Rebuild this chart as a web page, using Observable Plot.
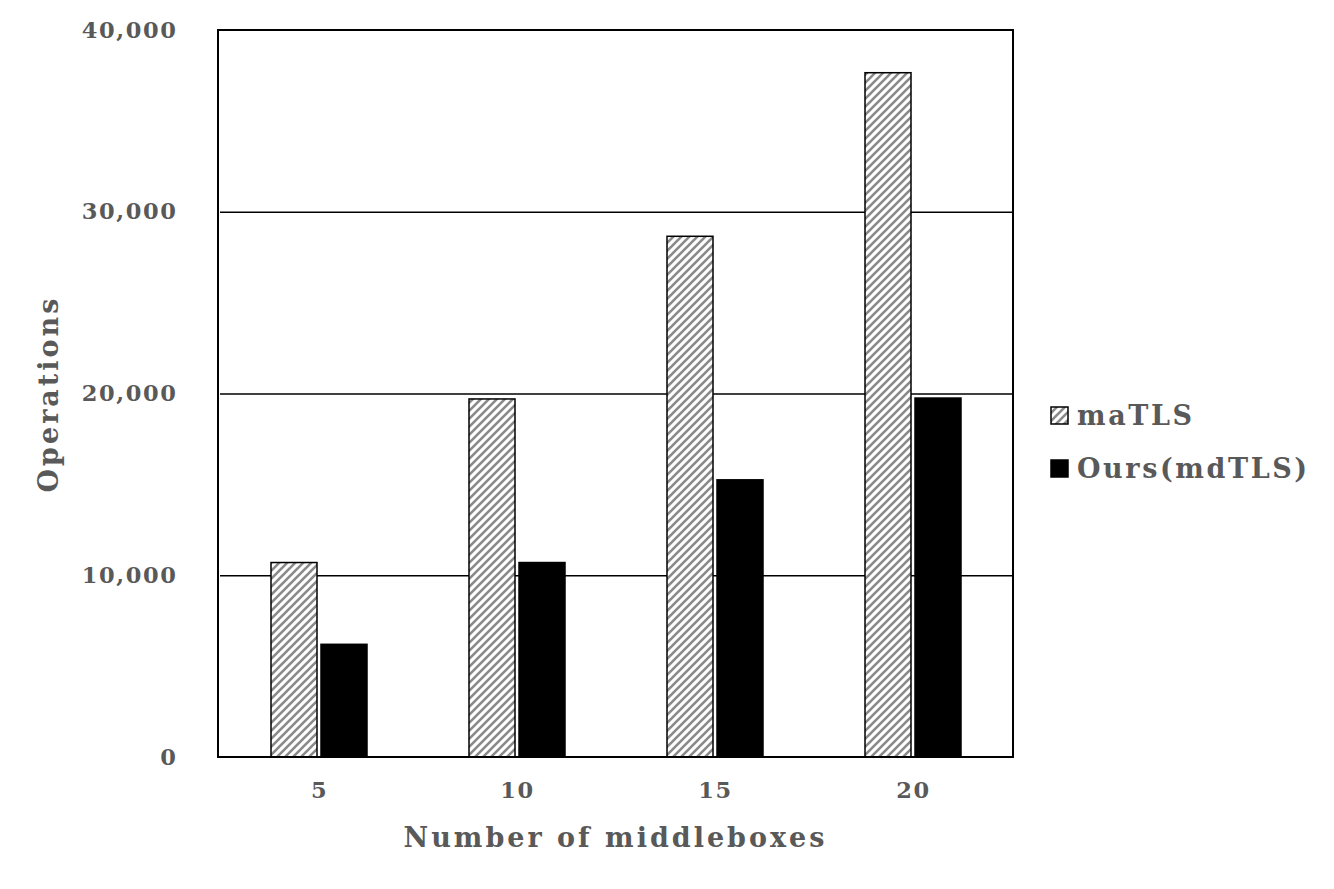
<!DOCTYPE html>
<html>
<head>
<meta charset="utf-8">
<script src="https://cdn.jsdelivr.net/npm/d3@7"></script>
<script src="https://cdn.jsdelivr.net/npm/@observablehq/plot@0.6"></script>
<style>
  html, body { margin: 0; padding: 0; background: #fff; }
  #wrap { position: relative; width: 1334px; height: 889px; font-family: "DejaVu Serif", serif; font-weight: bold; color: #595959; }
  .ttl { position: absolute; font-size: 27px; letter-spacing: 3px; white-space: nowrap; }
  .leg { position: absolute; display: flex; align-items: center; font-size: 27px; letter-spacing: 2.6px; white-space: nowrap; }
</style>
</head>
<body>
<div id="wrap"></div>
<script>
// ---- data ----
const groups = [5, 10, 15, 20];
const seriesNames = ["maTLS", "Ours(mdTLS)"];
const maTLS = [10700, 19700, 28650, 37650];
const ours = [6200, 10700, 15250, 19750];
const yTicks = [0, 10000, 20000, 30000, 40000];
const gridValues = [10000, 20000, 30000];
const xTitle = "Number of middleboxes";
const yTitle = "Operations";

const rows = [];
groups.forEach((g, i) => {
  rows.push({group: g, series: seriesNames[0], value: maTLS[i]});
  rows.push({group: g, series: seriesNames[1], value: ours[i]});
});

const W = 1334, H = 889;
const mL = 218, mR = 321, mT = 30, mB = 132;
const fmt = d3.format(",");

const chart = Plot.plot({
  width: W,
  height: H,
  marginLeft: mL,
  marginRight: mR,
  marginTop: mT,
  marginBottom: mB,
  style: {fontFamily: "'DejaVu Serif', serif", fontWeight: "bold", fontSize: "22px", color: "#595959", background: "white"},
  fx: {domain: groups, padding: 0, label: null, axis: "bottom", tickSize: 0, tickPadding: 25},
  x: {domain: seriesNames, paddingInner: 0.08, paddingOuter: 1.0, axis: null},
  y: {domain: [0, 40000], ticks: yTicks, tickFormat: d => fmt(d), tickSize: 0, tickPadding: 43, label: null},
  color: {domain: seriesNames, range: ["url(#hatch)", "#000"]},
  marks: [
    Plot.ruleY(gridValues, {stroke: "#000", strokeWidth: 1.6}),
    Plot.barY(rows, {fx: "group", x: "series", y: "value", fill: "series", stroke: "#000", strokeWidth: 1.5})
  ]
});

const svg = d3.select(chart);
svg.insert("defs", ":first-child").html(
  `<pattern id="hatch" patternUnits="userSpaceOnUse" width="8" height="8">
     <rect width="8" height="8" fill="white"/>
     <path d="M-2,2 l4,-4 M0,8 l8,-8 M6,10 l4,-4" stroke="#8a8a8a" stroke-width="2.6"/>
   </pattern>`);
svg.selectAll("text")
  .style("letter-spacing", "1.6px")
  .style("font-size", "22.5px")
  .style("font-weight", "bold")
  .attr("fill", "#595959");
svg.append("rect")
  .attr("x", mL).attr("y", mT)
  .attr("width", W - mL - mR).attr("height", H - mT - mB)
  .attr("fill", "none").attr("stroke", "#000").attr("stroke-width", 2);

const wrap = document.getElementById("wrap");
wrap.appendChild(chart);

// axis titles
const xt = document.createElement("div");
xt.className = "ttl";
xt.textContent = xTitle;
xt.style.left = (mL + (W - mL - mR) / 2) + "px";
xt.style.top = "822px";
xt.style.transform = "translateX(-50%)";
wrap.appendChild(xt);

const yt = document.createElement("div");
yt.className = "ttl";
yt.textContent = yTitle;
yt.style.left = "48px";
yt.style.top = (mT + (H - mT - mB) / 2) + "px";
yt.style.transform = "translate(-50%, -50%) rotate(-90deg)";
wrap.appendChild(yt);

// legend
const legFills = ["url(#hatch)", "#000"];
const legTops = [400, 453];
seriesNames.forEach((s, i) => {
  const d = document.createElement("div");
  d.className = "leg";
  d.style.left = "1050px";
  d.style.top = legTops[i] + "px";
  const sw = document.createElementNS("http://www.w3.org/2000/svg", "svg");
  sw.setAttribute("width", 19); sw.setAttribute("height", 19);
  sw.style.marginRight = "8px";
  const r = document.createElementNS("http://www.w3.org/2000/svg", "rect");
  r.setAttribute("x", 1); r.setAttribute("y", 1);
  r.setAttribute("width", 17); r.setAttribute("height", 17);
  r.setAttribute("fill", legFills[i]); r.setAttribute("stroke", "#000"); r.setAttribute("stroke-width", 1.5);
  sw.appendChild(r);
  d.appendChild(sw);
  const t = document.createElement("span");
  t.textContent = s;
  d.appendChild(t);
  wrap.appendChild(d);
});
</script>
</body>
</html>
